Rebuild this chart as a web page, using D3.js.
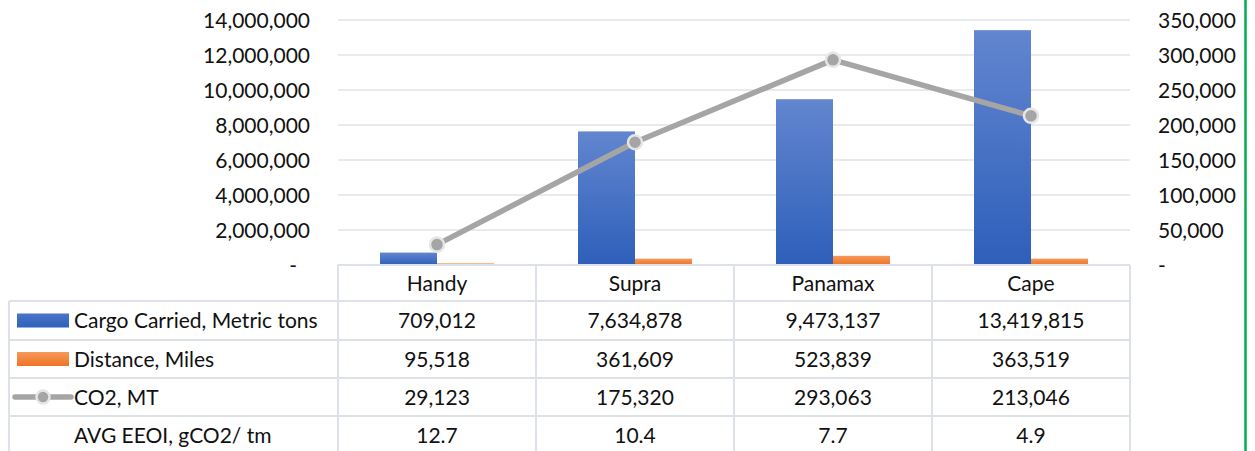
<!DOCTYPE html>
<html>
<head>
<meta charset="utf-8">
<script src="https://cdn.jsdelivr.net/npm/d3@7"></script>
<style>
  html, body { margin: 0; padding: 0; background: #fff; }
  svg { display: block; font-family: Lato, "Open Sans", sans-serif; }
</style>
</head>
<body>
<svg id="chart" width="1255" height="451"></svg>
<script>
// Ship classes and per-class figures
const categories = ["Handy", "Supra", "Panamax", "Cape"];
const cargoCarried = [709012, 7634878, 9473137, 13419815];   // metric tons
const distanceMiles = [95518, 361609, 523839, 363519];
const co2 = [29123, 175320, 293063, 213046];                 // MT
const avgEeoi = [12.7, 10.4, 7.7, 4.9];                      // gCO2 / tm

const leftTicks = [0, 2000000, 4000000, 6000000, 8000000, 10000000, 12000000, 14000000];
const rightTicks = [0, 50000, 100000, 150000, 200000, 250000, 300000, 350000];

const seriesNames = ["Cargo Carried, Metric tons", "Distance, Miles", "CO2, MT", "AVG EEOI, gCO2/ tm"];

const svg = d3.select("#chart");
const fontSize = 21;

const plot = { left: 338, right: 1130, top: 20, bottom: 265 };

const x = d3.scaleBand().domain(categories).range([plot.left, plot.right]);
const xInner = d3.scaleBand().domain(["cargo", "distance"]).range([0, 114]);
const yLeft = d3.scaleLinear().domain([0, 14000000]).range([plot.bottom, plot.top]);
const yRight = d3.scaleLinear().domain([0, 350000]).range([plot.bottom, plot.top]);

const fmt = d3.format(",");
const tickFmt = v => v === 0 ? "-" : fmt(v);

// gradients for bars
const defs = svg.append("defs");
const gBlue = defs.append("linearGradient").attr("id", "gBlue").attr("x1", 0).attr("y1", 0).attr("x2", 0).attr("y2", 1);
gBlue.append("stop").attr("offset", "0%").attr("stop-color", "#6286cf");
gBlue.append("stop").attr("offset", "100%").attr("stop-color", "#2e5fba");
const gOrange = defs.append("linearGradient").attr("id", "gOrange").attr("x1", 0).attr("y1", 0).attr("x2", 0).attr("y2", 1);
gOrange.append("stop").attr("offset", "0%").attr("stop-color", "#f6995a");
gOrange.append("stop").attr("offset", "100%").attr("stop-color", "#ee7325");
const gBlueKey = defs.append("linearGradient").attr("id", "gBlueKey").attr("x1", 0).attr("y1", 0).attr("x2", 0).attr("y2", 1);
gBlueKey.append("stop").attr("offset", "0%").attr("stop-color", "#4a75c8");
gBlueKey.append("stop").attr("offset", "100%").attr("stop-color", "#2f60bb");

// gridlines
svg.append("g")
  .selectAll("line").data(leftTicks.filter(d => d > 0)).join("line")
  .attr("x1", plot.left).attr("x2", plot.right)
  .attr("y1", d => yLeft(d)).attr("y2", d => yLeft(d))
  .attr("stroke", "#dfe3ea").attr("stroke-width", 1.5);

// left axis labels
const leftAxis = d3.axisLeft(yLeft).tickValues(leftTicks).tickFormat(tickFmt).tickSize(0).tickPadding(0);
const gL = svg.append("g").attr("transform", "translate(310,0)").call(leftAxis);
gL.select(".domain").remove();
gL.selectAll("text").attr("font-size", fontSize).attr("fill", "#111").attr("font-family", "Lato, sans-serif")
  .attr("dy", "0.36em")
  .attr("dx", d => d === 0 ? -13 : 0);

// right axis labels
const rightAxis = d3.axisRight(yRight).tickValues(rightTicks).tickFormat(tickFmt).tickSize(0).tickPadding(0);
const gR = svg.append("g").attr("transform", "translate(1158,0)").call(rightAxis);
gR.select(".domain").remove();
gR.selectAll("text").attr("font-size", fontSize).attr("fill", "#111").attr("font-family", "Lato, sans-serif")
  .attr("dy", "0.36em");

// bars
const barG = svg.append("g");
barG.selectAll("rect.cargo").data(categories).join("rect")
  .attr("class", "cargo")
  .attr("x", (d) => x(d) + x.bandwidth() / 2 - 57)
  .attr("width", xInner.bandwidth())
  .attr("y", (d, i) => yLeft(cargoCarried[i]))
  .attr("height", (d, i) => yLeft(0) - yLeft(cargoCarried[i]))
  .attr("fill", "url(#gBlue)");
barG.selectAll("rect.dist").data(categories).join("rect")
  .attr("class", "dist")
  .attr("x", (d) => x(d) + x.bandwidth() / 2 - 57 + xInner("distance"))
  .attr("width", xInner.bandwidth())
  .attr("y", (d, i) => yLeft(distanceMiles[i]))
  .attr("height", (d, i) => yLeft(0) - yLeft(distanceMiles[i]))
  .attr("fill", "url(#gOrange)");

// CO2 line on right axis
const line = d3.line()
  .x((d, i) => x(categories[i]) + x.bandwidth() / 2)
  .y(d => yRight(d));
svg.append("path").datum(co2)
  .attr("d", line)
  .attr("fill", "none")
  .attr("stroke", "#a5a5a5")
  .attr("stroke-width", 5.5)
  .attr("stroke-linejoin", "round");
svg.append("g").selectAll("circle").data(co2).join("circle")
  .attr("cx", (d, i) => x(categories[i]) + x.bandwidth() / 2)
  .attr("cy", d => yRight(d))
  .attr("r", 7)
  .attr("fill", "#a5a5a5")
  .attr("stroke", "#e6e6e6")
  .attr("stroke-width", 2.5);

// data table
const table = svg.append("g");
const border = "#dde1e8";
const rowEdges = [265, 301, 340, 378, 416, 455];
const tableLeft = 9;

// horizontal rules
table.append("line").attr("x1", plot.left).attr("x2", plot.right)
  .attr("y1", rowEdges[0]).attr("y2", rowEdges[0])
  .attr("stroke", border).attr("stroke-width", 2);
rowEdges.slice(1, 5).forEach(yv => {
  table.append("line").attr("x1", tableLeft).attr("x2", plot.right)
    .attr("y1", yv).attr("y2", yv)
    .attr("stroke", border).attr("stroke-width", 2);
});
// vertical rules
table.append("line").attr("x1", tableLeft).attr("x2", tableLeft)
  .attr("y1", rowEdges[1]).attr("y2", 451).attr("stroke", border).attr("stroke-width", 2);
const colEdges = categories.map(c => x(c)).concat([plot.right]);
colEdges.forEach(xv => {
  table.append("line").attr("x1", xv).attr("x2", xv)
    .attr("y1", rowEdges[0]).attr("y2", 451).attr("stroke", border).attr("stroke-width", 2);
});

// category header
table.selectAll("text.cat").data(categories).join("text")
  .attr("class", "cat")
  .attr("x", d => x(d) + x.bandwidth() / 2)
  .attr("y", (rowEdges[0] + rowEdges[1]) / 2)
  .attr("dy", "0.36em")
  .attr("text-anchor", "middle")
  .attr("font-size", fontSize).attr("fill", "#111")
  .text(d => d);

const rows = [
  cargoCarried.map(fmt),
  distanceMiles.map(fmt),
  co2.map(fmt),
  avgEeoi.map(d => d3.format(".1f")(d))
];
rows.forEach((vals, r) => {
  const cy = (rowEdges[r + 1] + rowEdges[r + 2]) / 2;
  table.append("text")
    .attr("x", 74).attr("y", cy).attr("dy", "0.36em")
    .attr("font-size", fontSize).attr("fill", "#111")
    .text(seriesNames[r]);
  table.selectAll(null).data(vals).join("text")
    .attr("x", (d, i) => x(categories[i]) + x.bandwidth() / 2)
    .attr("y", cy).attr("dy", "0.36em")
    .attr("text-anchor", "middle")
    .attr("font-size", fontSize).attr("fill", "#111")
    .text(d => d);
});

// legend keys inside table
const keyY = r => (rowEdges[r + 1] + rowEdges[r + 2]) / 2;
table.append("rect").attr("x", 17).attr("y", keyY(0) - 7).attr("width", 52).attr("height", 14).attr("fill", "url(#gBlueKey)");
table.append("rect").attr("x", 17).attr("y", keyY(1) - 7).attr("width", 52).attr("height", 14).attr("fill", "url(#gOrange)");
table.append("line").attr("x1", 15).attr("x2", 71).attr("y1", keyY(2)).attr("y2", keyY(2))
  .attr("stroke", "#a5a5a5").attr("stroke-width", 5.5).attr("stroke-linecap", "round");
table.append("circle").attr("cx", 43).attr("cy", keyY(2)).attr("r", 6.5)
  .attr("fill", "#a5a5a5").attr("stroke", "#e6e6e6").attr("stroke-width", 2.5);

// green frame edge on the right
svg.append("line").attr("x1", 1245.5).attr("x2", 1245.5).attr("y1", 0).attr("y2", 451)
  .attr("stroke", "#00b050").attr("stroke-width", 2.5);
</script>
</body>
</html>
